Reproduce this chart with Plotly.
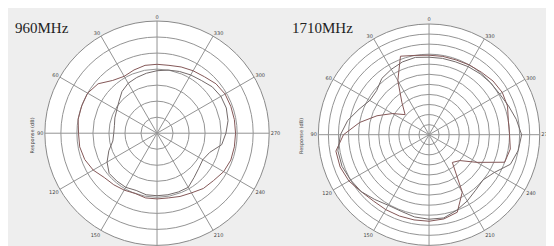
import plotly.graph_objects as go

# ---- data ----
angles = [0, 10, 20, 30, 40, 50, 60, 70, 80, 90, 100, 110, 120, 130, 140, 150, 160, 170,
          180, 190, 200, 210, 220, 230, 240, 250, 260, 270, 280, 290, 300, 310, 320, 330, 340, 350]

mhz960_a = [43, 43, 42, 41, 43, 48, 50, 50, 50, 49, 49, 48, 46, 43, 42, 41, 40, 41,
            41, 41, 42, 43, 45, 46, 48, 49, 49, 49, 49, 49, 49, 48, 46, 45, 44, 43]
mhz960_b = [39, 38, 37, 36, 34, 31, 29, 28, 27, 27, 28, 32, 36, 39, 39, 39, 38, 39,
            39, 39, 39, 39, 36, 34, 33, 35, 41, 43, 45, 46, 46, 45, 43, 42, 41, 40]

mhz1710_a = [79, 80, 83, 62, 42, 31, 42, 55, 70, 85, 94, 94, 92, 88, 86, 86, 86, 86,
             86, 85, 82, 66, 36, 40, 55, 80, 82, 80, 80, 83, 84, 83, 81, 80, 79, 79]
mhz1710_b = [77, 78, 77, 75, 73, 68, 68, 74, 82, 88, 92, 92, 90, 88, 84, 81, 81, 83,
             84, 84, 80, 76, 72, 70, 75, 86, 90, 92, 88, 84, 81, 80, 79, 78, 77, 77]

titles = ["960MHz", "1710MHz"]
radial_max = [70, 110]
tick_angles = [0, 30, 60, 90, 120, 150, 180, 210, 240, 270, 300, 330]
tick_labels = ["0", "30", "60", "90", "120", "150", "180", "210", "240", "270", "300", "330"]

W, H = 554, 246
fig = go.Figure()

def closed(lst):
    return list(lst) + [lst[0]]

series = [("polar", mhz960_a, mhz960_b), ("polar2", mhz1710_a, mhz1710_b)]
for sub, a, b in series:
    fig.add_trace(go.Scatterpolar(theta=closed(angles), r=closed(a), mode="lines",
                                  line=dict(color="#845858", width=1), subplot=sub,
                                  showlegend=False))
    fig.add_trace(go.Scatterpolar(theta=closed(angles), r=closed(b), mode="lines",
                                  line=dict(color="#736a6a", width=1), subplot=sub,
                                  showlegend=False))

def polar_cfg(dom_x, dom_y, rmax):
    return dict(
        domain=dict(x=dom_x, y=dom_y),
        bgcolor="white",
        angularaxis=dict(rotation=90, direction="counterclockwise",
                         tickmode="array", tickvals=tick_angles, ticktext=tick_labels,
                         ticks="", tickfont=dict(size=5, color="#444", family="DejaVu Sans"),
                         showline=True, linecolor="#8a8a8a", linewidth=1,
                         gridcolor="#949494", gridwidth=1),
        radialaxis=dict(range=[0, rmax], dtick=10, showticklabels=False, ticks="",
                        showline=False, gridcolor="#949494", gridwidth=1),
    )

fig.update_layout(
    width=W, height=H,
    margin=dict(l=0, r=0, t=0, b=0),
    paper_bgcolor="#eeeeee",
    polar=polar_cfg([0.064, 0.474], [0.035, 0.947], radial_max[0]),
    polar2=polar_cfg([0.56, 0.96], [0.035, 0.935], radial_max[1]),
    annotations=[
        dict(text=titles[0], x=5 / W, y=1 - 20 / H, xref="paper", yref="paper",
             xanchor="left", yanchor="middle", showarrow=False,
             font=dict(family="Liberation Serif", size=15, color="#222")),
        dict(text=titles[1], x=282 / W, y=1 - 20 / H, xref="paper", yref="paper",
             xanchor="left", yanchor="middle", showarrow=False,
             font=dict(family="Liberation Serif", size=15, color="#222")),
        dict(text="Response (dB)", x=18 / W, y=1 - 128 / H, xref="paper", yref="paper",
             textangle=-90, showarrow=False,
             font=dict(family="DejaVu Sans", size=5, color="#444")),
        dict(text="Response (dB)", x=293 / W, y=1 - 128 / H, xref="paper", yref="paper",
             textangle=-90, showarrow=False,
             font=dict(family="DejaVu Sans", size=5, color="#444")),
    ],
)

fig.write_html("out.html")
